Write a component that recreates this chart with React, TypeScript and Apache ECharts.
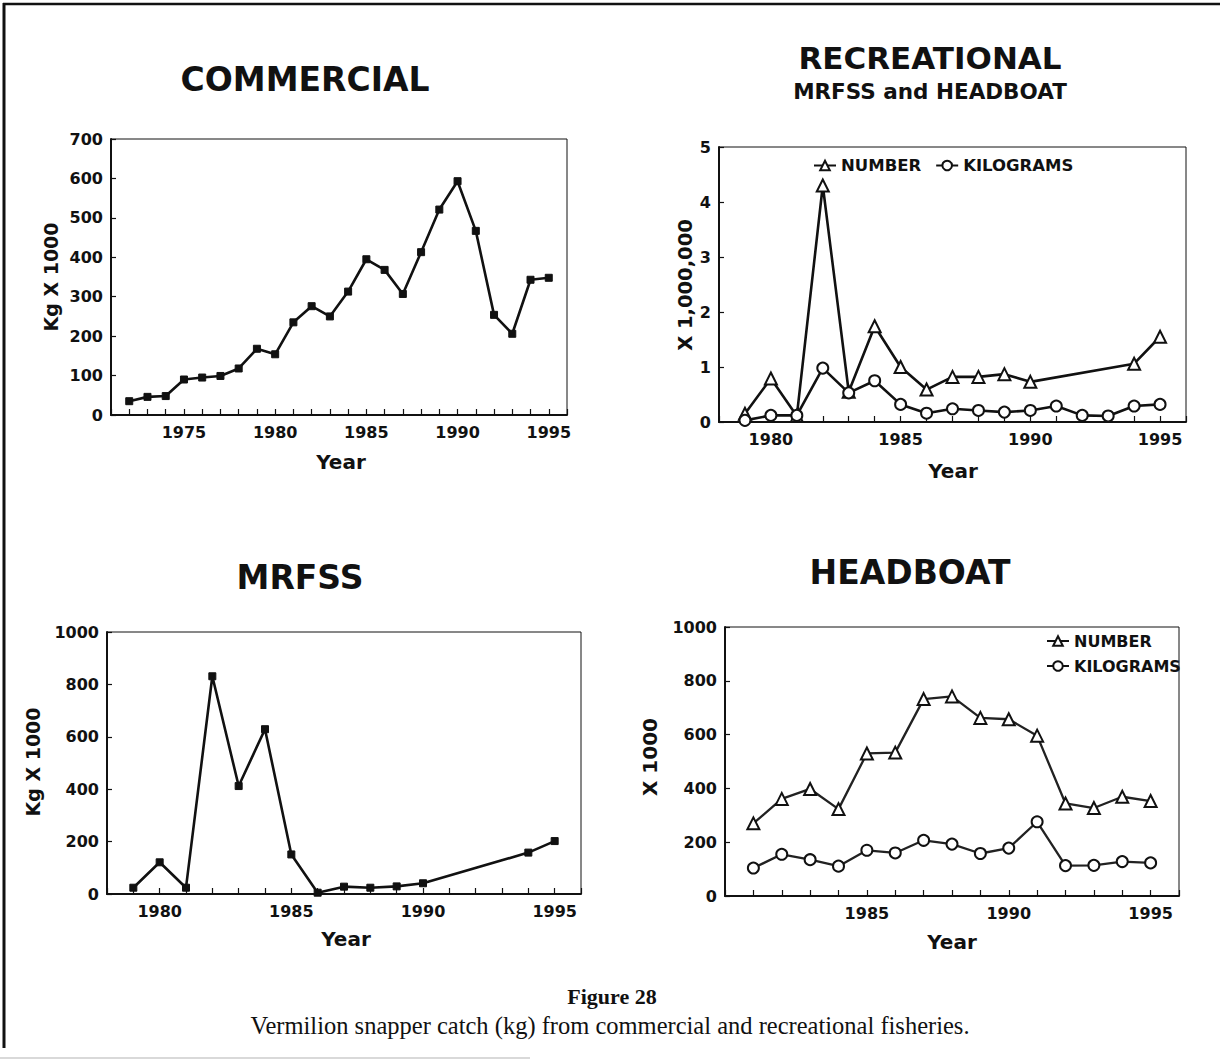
import React, { useEffect, useRef } from "react";
import * as echarts from "echarts";

// ---------- DATA ----------
const commercialYears = [1972, 1973, 1974, 1975, 1976, 1977, 1978, 1979, 1980, 1981, 1982, 1983, 1984, 1985, 1986, 1987, 1988, 1989, 1990, 1991, 1992, 1993, 1994, 1995];
const commercialKg = [35, 46, 48, 90, 95, 99, 118, 168, 154, 235, 276, 250, 313, 395, 368, 307, 413, 521, 593, 467, 254, 206, 343, 348];

const recNumberYears = [1979, 1980, 1981, 1982, 1983, 1984, 1985, 1986, 1987, 1988, 1989, 1990, 1994, 1995];
const recNumber = [0.15, 0.79, 0.11, 4.3, 0.55, 1.74, 1.0, 0.59, 0.82, 0.82, 0.87, 0.73, 1.06, 1.55];
const recKgYears = [1979, 1980, 1981, 1982, 1983, 1984, 1985, 1986, 1987, 1988, 1989, 1990, 1991, 1992, 1993, 1994, 1995];
const recKg = [0.03, 0.12, 0.12, 0.98, 0.53, 0.75, 0.32, 0.16, 0.24, 0.21, 0.18, 0.21, 0.29, 0.12, 0.11, 0.29, 0.32];

const mrfssYears = [1979, 1980, 1981, 1982, 1983, 1984, 1985, 1986, 1987, 1988, 1989, 1990, 1994, 1995];
const mrfssKg = [24, 121, 24, 831, 412, 629, 151, 5, 28, 24, 29, 41, 158, 202];

const headboatYears = [1981, 1982, 1983, 1984, 1985, 1986, 1987, 1988, 1989, 1990, 1991, 1992, 1993, 1994, 1995];
const headboatNumber = [270, 361, 398, 323, 530, 533, 732, 742, 662, 657, 596, 344, 327, 369, 353];
const headboatKg = [104, 155, 135, 111, 170, 160, 207, 193, 158, 178, 276, 113, 114, 128, 123];

const legendNames = ["NUMBER", "KILOGRAMS"];
const panelTitles = ["COMMERCIAL", "RECREATIONAL", "MRFSS and HEADBOAT", "MRFSS", "HEADBOAT"];
const yNames = ["Kg X 1000", "X 1,000,000", "Kg X 1000", "X 1000"];
const xName = "Year";
const figureLabel = "Figure 28";
const caption = "Vermilion snapper catch (kg) from commercial and recreational fisheries.";

// ---------- HELPERS ----------
const pairs = (xs: number[], ys: number[]) => xs.map((x, i) => [x, ys[i]]);
const SANS = "DejaVu Sans";
const INK = "#111";

const xAxisFor = (gridIndex: number, min: number, max: number, hideMin = false) => ({
  type: "value",
  gridIndex,
  min,
  max,
  interval: 1,
  axisLine: { show: true, lineStyle: { color: INK, width: 2 } },
  axisTick: { show: true, inside: true, length: 6, lineStyle: { color: INK, width: 1.2 } },
  axisLabel: {
    show: true,
    margin: 9,
    color: INK,
    fontFamily: SANS,
    fontWeight: "bold",
    fontSize: 16,
    formatter: (v: number) => (v % 5 === 0 && !(hideMin && v === min) ? String(v) : ""),
  },
  splitLine: { show: false },
});

const yAxisFor = (gridIndex: number, max: number, interval: number) => ({
  type: "value",
  gridIndex,
  min: 0,
  max,
  interval,
  axisLine: { show: true, lineStyle: { color: INK, width: 2 } },
  axisTick: { show: true, inside: true, length: 5, lineStyle: { color: INK, width: 1.2 } },
  axisLabel: {
    show: true,
    margin: 8,
    color: INK,
    fontFamily: SANS,
    fontWeight: "bold",
    fontSize: 16,
    formatter: (v: number) => String(v),
  },
  splitLine: { show: false },
});

const txt = (text: string, x: number, y: number, size: number, opts: any = {}) => ({
  type: "text",
  x,
  y,
  rotation: opts.rotation || 0,
  style: {
    text,
    font: `${opts.weight || "bold"} ${size}px ${opts.family || "'DejaVu Sans'"}`,
    fill: INK,
    align: "center",
    verticalAlign: "middle",
    textAlign: "center",
    textVerticalAlign: "middle",
  },
});

export default function App() {
  const ref = useRef<HTMLDivElement>(null);

  useEffect(() => {
    if (!ref.current) return;
    const chart = echarts.init(ref.current, undefined, { renderer: "svg" });

    const grids = [
      { left: 111, top: 139, width: 456, height: 276 },
      { left: 719, top: 147, width: 467, height: 275 },
      { left: 107, top: 632, width: 474, height: 262 },
      { left: 725, top: 627, width: 454, height: 269 },
    ].map((g) => ({ ...g, show: true, borderColor: INK, borderWidth: 1, backgroundColor: "transparent" }));

    const lineBase = {
      type: "line",
      animation: false,
      lineStyle: { color: INK, width: 2.6 },
      itemStyle: { color: INK, borderColor: INK },
    };

    const option: any = {
      animation: false,
      backgroundColor: "#fff",
      grid: grids,
      xAxis: [
        xAxisFor(0, 1971, 1996),
        xAxisFor(1, 1978, 1996),
        xAxisFor(2, 1978, 1996),
        xAxisFor(3, 1980, 1996, true),
      ],
      yAxis: [yAxisFor(0, 700, 100), yAxisFor(1, 5, 1), yAxisFor(2, 1000, 200), yAxisFor(3, 1000, 200)],
      legend: [
        {
          data: legendNames,
          orient: "horizontal",
          left: 808,
          top: 152,
          itemWidth: 22,
          itemHeight: 12,
          itemGap: 14,
          selectedMode: false,
          textStyle: { color: INK, fontFamily: SANS, fontWeight: "bold", fontSize: 16.5 },
        },
        {
          data: legendNames,
          orient: "vertical",
          left: 1041,
          top: 628,
          itemWidth: 22,
          itemHeight: 12,
          itemGap: 9,
          selectedMode: false,
          textStyle: { color: INK, fontFamily: SANS, fontWeight: "bold", fontSize: 16 },
        },
      ],
      series: [
        {
          ...lineBase,
          name: "Commercial",
          xAxisIndex: 0,
          yAxisIndex: 0,
          symbol: "rect",
          symbolSize: 7,
          data: pairs(commercialYears, commercialKg),
        },
        {
          ...lineBase,
          name: legendNames[0],
          xAxisIndex: 1,
          yAxisIndex: 1,
          symbol: "emptyTriangle",
          symbolSize: 12,
          itemStyle: { color: INK, borderColor: INK, borderWidth: 1.8 },
          data: pairs(recNumberYears, recNumber),
        },
        {
          ...lineBase,
          name: legendNames[1],
          xAxisIndex: 1,
          yAxisIndex: 1,
          symbol: "emptyCircle",
          symbolSize: 11,
          itemStyle: { color: INK, borderColor: INK, borderWidth: 2.8 },
          data: pairs(recKgYears, recKg),
        },
        {
          ...lineBase,
          name: "MRFSS",
          xAxisIndex: 2,
          yAxisIndex: 2,
          symbol: "rect",
          symbolSize: 7,
          data: pairs(mrfssYears, mrfssKg),
        },
        {
          ...lineBase,
          name: legendNames[0],
          xAxisIndex: 3,
          yAxisIndex: 3,
          symbol: "emptyTriangle",
          symbolSize: 12,
          lineStyle: { color: "#222", width: 2.3 },
          itemStyle: { color: INK, borderColor: INK, borderWidth: 1.5 },
          data: pairs(headboatYears, headboatNumber),
        },
        {
          ...lineBase,
          name: legendNames[1],
          xAxisIndex: 3,
          yAxisIndex: 3,
          symbol: "emptyCircle",
          symbolSize: 11,
          lineStyle: { color: "#222", width: 2.3 },
          itemStyle: { color: INK, borderColor: INK, borderWidth: 1.5 },
          data: pairs(headboatYears, headboatKg),
        },
      ],
      graphic: [
        { type: "line", shape: { x1: 3, y1: 4, x2: 1220, y2: 4 }, style: { stroke: "#111", lineWidth: 2.5 } },
        { type: "line", shape: { x1: 4, y1: 3, x2: 4, y2: 1048 }, style: { stroke: "#111", lineWidth: 3 } },
        { type: "line", shape: { x1: 0, y1: 1058, x2: 530, y2: 1058 }, style: { stroke: "#ccc", lineWidth: 1.5 } },
        txt(panelTitles[0], 305, 79, 33),
        txt(panelTitles[1], 930, 58, 31),
        txt(panelTitles[2], 930, 91, 21.5),
        txt(panelTitles[3], 300, 577, 33),
        txt(panelTitles[4], 910, 572, 33),
        txt(yNames[0], 51, 277, 19, { rotation: Math.PI / 2 }),
        txt(yNames[1], 685, 285, 19.5, { rotation: Math.PI / 2 }),
        txt(yNames[2], 33, 762, 19, { rotation: Math.PI / 2 }),
        txt(yNames[3], 650, 757, 20, { rotation: Math.PI / 2 }),
        txt(xName, 341, 462, 20),
        txt(xName, 953, 471, 20),
        txt(xName, 346, 939, 20),
        txt(xName, 952, 942, 20),
        txt(figureLabel, 612, 996, 22, { family: "'Liberation Serif', serif" }),
        txt(caption, 610, 1025, 24.5, { weight: "normal", family: "'Liberation Serif', serif" }),
      ],
    };

    chart.setOption(option);
    return () => chart.dispose();
  }, []);

  return (
    <div
      ref={ref}
      style={{ position: "absolute", left: 0, top: 0, width: 1220, height: 1062, background: "#fff" }}
    />
  );
}
